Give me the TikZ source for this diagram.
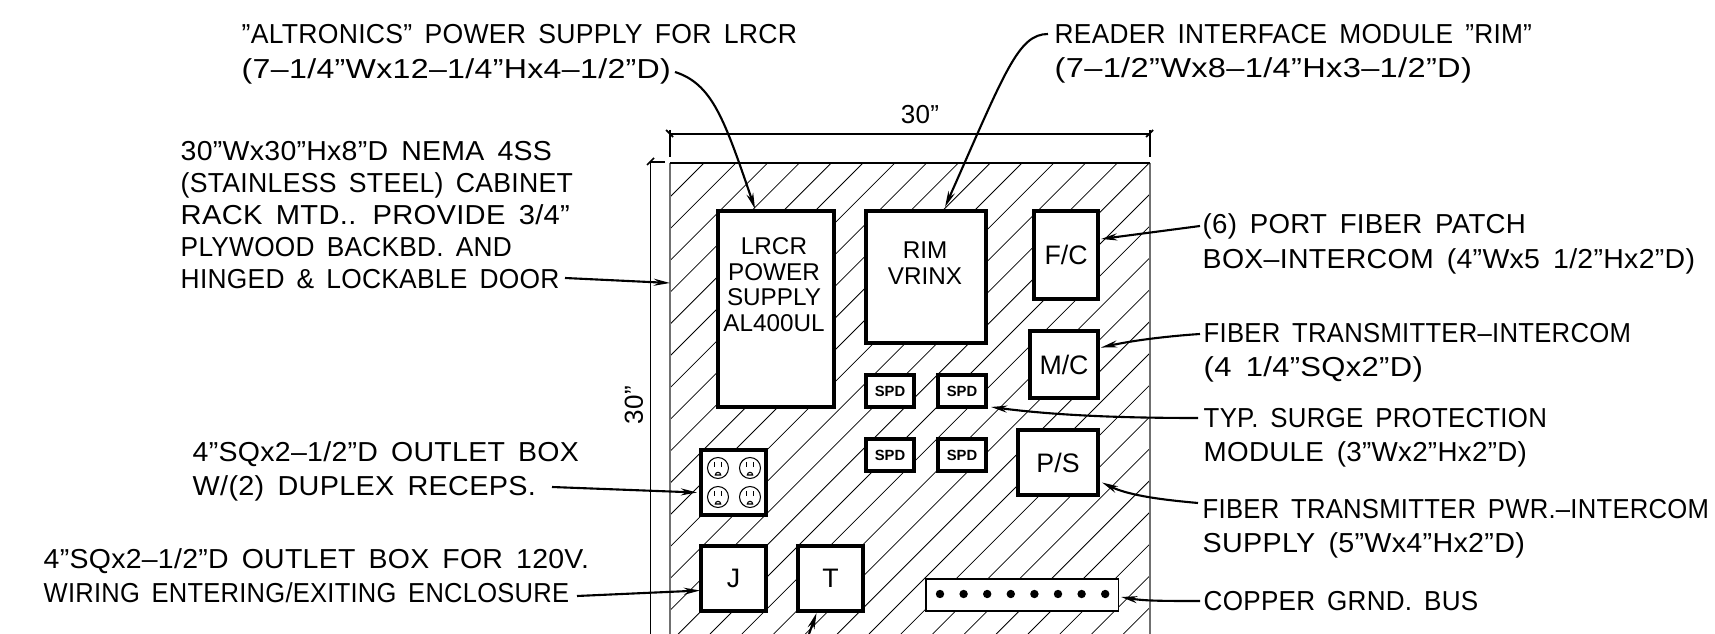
\documentclass[tikz,border=0pt]{standalone}
\usepackage{graphicx}
\usepackage{fontspec}
\setmainfont{Liberation Sans}
\newfontfamily\callfont[LetterSpace=1.0,WordSpace=1.6]{Liberation Sans}
\usetikzlibrary{calc,arrows.meta}
\newcommand{\fitw}[2]{\resizebox{#1cm}{\height}{#2}}
\definecolor{WallGray}{HTML}{707070}
\tikzset{
    panelbox/.style = {draw, rectangle, fill=white, line width=1pt, outer sep=0pt, inner sep=0pt, anchor=north west, font=\fontsize{7.6}{8}\selectfont},
    spdbox/.style = {panelbox, minimum width=.48cm, minimum height=.32cm, font=\bfseries\fontsize{4.2}{5}\selectfont},
    boxtext/.style = {align=center, inner sep=0pt, font=\fontsize{6.9}{7.3}\selectfont},
    calltext/.style = {align=left, anchor=west, inner sep=0pt, font=\callfont\fontsize{7.8}{9.8}\selectfont},
    leader/.style = {draw, line width=.6pt, -{Stealth[length=4.6pt,width=2pt]}},
    dimline/.style = {draw, line width=.5pt}
}
\begin{document}
\begin{tikzpicture}[x=.01cm,y=-.01cm]
            \useasboundingbox (0,0) rectangle (1715,634);
            \begin{scope}
                \clip (670,163) rectangle (1150,634);
                \foreach \k in {0,...,29}
                    \draw [line width=.22pt] ({867+31.8*\k-163},163) -- ({867+31.8*\k-634},634);
            \end{scope}
            \draw [WallGray,line width=.5pt] (670,634) -- (670,163);
            \draw [WallGray,line width=.5pt] (1150,163) -- (1150,634);
            \draw [line width=.45pt] (670,163) -- (1150,163);

            \coordinate (topdimL) at (669,134);
            \coordinate (topdimR) at (1150,134);
            \coordinate (leftdimT) at (650.5,162);
            \coordinate (leftdimB) at (650.5,634);
            \draw [dimline] (topdimL) -- (topdimR);
            \draw [dimline] (leftdimB) -- (leftdimT) -- (665,162);
            \draw [dimline] (670,130) -- (670,157);
            \draw [dimline] (1150,130) -- (1150,157);
            \draw [dimline] (666,130) -- (673,137);
            \draw [dimline] (1146,137) -- (1153,130);
            \draw [dimline] (647,165) -- (654,158);
            \node[inner sep=0pt,font=\callfont\fontsize{7.4}{9}\selectfont] (topdim) at (920,115) {30”};
            \node[inner sep=0pt,rotate=90,font=\callfont\fontsize{7.4}{9}\selectfont] (leftdim) at (634,405) {30”};

            \node[panelbox,minimum width=1.16cm,minimum height=1.96cm] (lrcr) at (718,211) {};
            \node[panelbox,minimum width=1.20cm,minimum height=1.32cm] (rim) at (866,211) {};
            \node[panelbox,minimum width=.64cm,minimum height=.88cm] (fc) at (1034,211) {F/C};
            \node[panelbox,minimum width=.68cm,minimum height=.67cm] (mc) at (1030,331) {M/C};
            \node[panelbox,minimum width=.80cm,minimum height=.65cm] (ps) at (1018,430) {P/S};
            \node[panelbox,minimum width=.65cm,minimum height=.65cm] (outlet) at (701,450) {};
            \node[panelbox,minimum width=.65cm,minimum height=.65cm] (jbox) at (701,546) {J};
            \node[panelbox,minimum width=.65cm,minimum height=.65cm] (tbox) at (798,546) {T};
            \node[spdbox] (spda) at (866,375) {SPD};
            \node[spdbox] (spdb) at (938,375) {SPD};
            \node[spdbox] (spdc) at (866,439) {SPD};
            \node[spdbox] (spdd) at (938,439) {SPD};
            \node[draw,rectangle,fill=white,line width=.3pt,outer sep=0pt,anchor=north west,minimum width=1.92cm,minimum height=.32cm] (bus) at (926,579) {};
            \node[boxtext] (lrcrtext) at (774,284.5) {LRCR\\POWER\\SUPPLY\\AL400UL};
            \node[boxtext] (rimtext) at (925,263) {RIM\\VRINX};

            \foreach \k in {0,...,7}
                \fill ({940+23.6*\k},594) circle (4.2);
            \foreach \cx/\cy in {718/468,750/468,718/497,750/497} {
                \draw [line width=.3pt] (\cx,\cy) circle (10.5);
                \draw [line width=.35pt] ({\cx-3.5},{\cy-6}) -- ({\cx-3.5},{\cy-1});
                \draw [line width=.35pt] ({\cx+3.5},{\cy-6}) -- ({\cx+3.5},{\cy-1});
                \draw [line width=.3pt] ({\cx-2.7},{\cy+7}) arc (180:360:2.7 and 2.7) -- cycle;
            }

            \node[calltext,font=\callfont\fontsize{7.8}{10}\selectfont] (altlabel) at (241,54) {\fitw{5.55}{”ALTRONICS” POWER SUPPLY FOR LRCR}\\\fitw{4.29}{(7–1/4”Wx12–1/4”Hx4–1/2”D)}};
            \node[calltext] (rimlabel) at (1054,53.5) {\fitw{4.77}{READER INTERFACE MODULE ”RIM”}\\\fitw{4.17}{(7–1/2”Wx8–1/4”Hx3–1/2”D)}};
            \node[calltext,font=\callfont\fontsize{7.8}{9.1}\selectfont] (cablabel) at (180,215) {\fitw{3.71}{30”Wx30”Hx8”D NEMA 4SS}\\\fitw{3.92}{(STAINLESS STEEL) CABINET}\\\fitw{3.89}{RACK MTD..  PROVIDE 3/4”}\\\fitw{3.31}{PLYWOOD BACKBD. AND}\\\fitw{3.785}{HINGED \& LOCKABLE DOOR}};
            \node[calltext] (fclabel) at (1202,244) {\fitw{3.23}{(6) PORT FIBER PATCH}\\\fitw{4.92}{BOX–INTERCOM (4”Wx5 1/2”Hx2”D)}};
            \node[calltext] (mclabel) at (1203,353) {\fitw{4.27}{FIBER TRANSMITTER–INTERCOM}\\\fitw{2.19}{(4 1/4”SQx2”D)}};
            \node[calltext] (spdlabel) at (1203,438) {\fitw{3.43}{TYP. SURGE PROTECTION}\\\fitw{3.23}{MODULE (3”Wx2”Hx2”D)}};
            \node[calltext] (pslabel) at (1202,529) {\fitw{5.06}{FIBER TRANSMITTER PWR.–INTERCOM}\\\fitw{3.22}{SUPPLY (5”Wx4”Hx2”D)}};
            \node[calltext] (buslabel) at (1203,601.5) {\fitw{2.745}{COPPER GRND. BUS}};
            \node[calltext] (reclabel) at (192,471.5) {\fitw{3.86}{4”SQx2–1/2”D OUTLET BOX}\\\fitw{3.43}{W/(2) DUPLEX  RECEPS.}};
            \node[calltext] (jlabel) at (43,575.5) {\fitw{5.45}{4”SQx2–1/2”D OUTLET BOX FOR 120V.}\\\fitw{5.25}{WIRING ENTERING/EXITING ENCLOSURE}};

            \coordinate (alttail) at (675,72);
            \coordinate (rimtail) at (1048,34);
            \coordinate (cabtail) at (565,278);
            \coordinate (cabwall) at (670,283);
            \coordinate (fctail) at (1200,226);
            \coordinate (mctail) at (1200,334);
            \coordinate (spdtail) at (1198,418);
            \coordinate (pstail) at (1198,503);
            \coordinate (bustail) at (1200,601);
            \coordinate (rectail) at (552,487);
            \coordinate (jtail) at (577,596);
            \coordinate (ttail) at (809,634);

            \draw [leader] (alttail) .. controls (712,84) and (724,118) .. ([shift={(-21,-2)}]lrcr.north);
            \draw [leader] (rimtail) .. controls (1018,34) and (1005,72) .. ([shift={(19,-4)}]rim.north);
            \draw [leader] (cabtail) -- (cabwall);
            \draw [leader] (fctail) -- ([shift={(3,-16)}]fc.east);
            \draw [leader] (mctail) .. controls (1170,336) and (1135,340) .. ([shift={(3,-17)}]mc.east);
            \draw [leader] (spdtail) .. controls (1130,418) and (1060,416) .. ([shift={(5,16)}]spdb.east);
            \draw [leader] (pstail) .. controls (1165,500) and (1130,496) .. ([shift={(4,20)}]ps.east);
            \draw [leader] (bustail) .. controls (1165,601) and (1145,601) .. ([shift={(3,2)}]bus.east);
            \draw [leader] (rectail) -- ([shift={(-4,10)}]outlet.west);
            \draw [leader] (jtail) -- ([shift={(-1,12)}]jbox.west);
            \draw [leader] (ttail) -- ([shift={(-14,2)}]tbox.south);
        \end{tikzpicture}
\end{document}
